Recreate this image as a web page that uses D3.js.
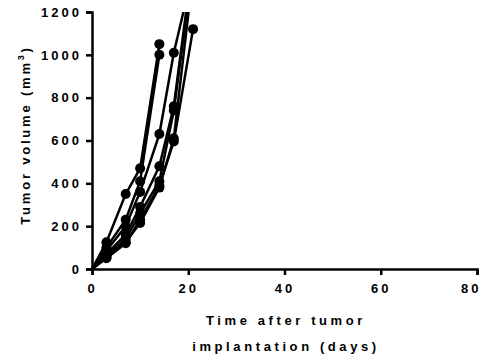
<!DOCTYPE html>
<html>
<head>
<meta charset="utf-8">
<script src="https://cdn.jsdelivr.net/npm/d3@7"></script>
<style>
  body { margin: 0; background: #fff; }
  text { font-family: "Liberation Sans", Arial, sans-serif; font-weight: bold; fill: #000; }
</style>
</head>
<body>
<div id="chart"></div>
<script>
// tumour volumes per mouse
var days = [0, 3, 7, 10, 14, 17, 21];
var mouse1 = [0, 125, 350, 470, 1050];
var mouse2 = [0, 100, 230, 410, 1000];
var mouse3 = [0, 85, 200, 360, 630, 1010, 1390];
var mouse4 = [0, 70, 160, 290, 480, 760, 1450];
var mouse5 = [0, 60, 140, 260, 410, 740, 1420];
var mouse6 = [0, 55, 125, 215, 380, 610, 1380];
var mouse7 = [0, 50, 120, 230, 390, 595, 1120];
var xTicks = [0, 20, 40, 60, 80];
var yTicks = [0, 200, 400, 600, 800, 1000, 1200];

var allMice = [mouse1, mouse2, mouse3, mouse4, mouse5, mouse6, mouse7];

var width = 485, height = 357;
var margin = { top: 12, right: 8, bottom: 88, left: 92 };

var svg = d3.select("#chart").append("svg")
    .attr("width", width)
    .attr("height", height);

var x = d3.scaleLinear().domain([0, 80]).range([margin.left, width - margin.right]);
var y = d3.scaleLinear().domain([0, 1200]).range([height - margin.bottom, margin.top]);

svg.append("clipPath").attr("id", "plot")
  .append("rect")
    .attr("x", x(0) - 6).attr("y", y(1200))
    .attr("width", x(80) - x(0) + 12).attr("height", y(0) - y(1200) + 6);

var line = d3.line()
    .x(function (d) { return x(d[0]); })
    .y(function (d) { return y(d[1]); });

var g = svg.append("g").attr("clip-path", "url(#plot)");

allMice.forEach(function (vals) {
    var pts = vals.map(function (v, i) { return [days[i], v]; });
    g.append("path")
        .attr("d", line(pts))
        .attr("fill", "none")
        .attr("stroke", "#000")
        .attr("stroke-width", 2.5);
    g.selectAll(null)
      .data(pts.slice(1).filter(function (d) { return d[1] <= 1200; }))
      .enter().append("circle")
        .attr("cx", function (d) { return x(d[0]); })
        .attr("cy", function (d) { return y(d[1]); })
        .attr("r", 5)
        .attr("fill", "#000");
});

var xAxis = svg.append("g")
    .attr("transform", "translate(0," + y(0) + ")")
    .call(d3.axisBottom(x).tickValues(xTicks).tickFormat(d3.format("d")).tickSize(6).tickPadding(9));

var yAxis = svg.append("g")
    .attr("transform", "translate(" + x(0) + ",0)")
    .call(d3.axisLeft(y).tickValues(yTicks).tickFormat(d3.format("d")).tickSize(6).tickPadding(4));

[xAxis, yAxis].forEach(function (a) {
    a.select(".domain").attr("stroke-width", 2.5).attr("stroke", "#000");
    a.selectAll(".tick line").attr("stroke-width", 2.5).attr("stroke", "#000");
    a.selectAll("text")
        .attr("font-size", 13)
        .style("font-family", "'Liberation Sans', Arial, sans-serif")
        .style("font-weight", "bold")
        .style("letter-spacing", "3px");
});
// last x label sits inside the edge, as in the original
xAxis.selectAll(".tick text").filter(function (d) { return d === 80; })
    .attr("text-anchor", "end").attr("dx", 4);

svg.append("text")
    .attr("x", 286).attr("y", 325)
    .attr("text-anchor", "middle")
    .attr("font-size", 13)
    .style("letter-spacing", "3.6px")
    .text("Time after tumor");

svg.append("text")
    .attr("x", 286).attr("y", 351)
    .attr("text-anchor", "middle")
    .attr("font-size", 13)
    .style("letter-spacing", "3.6px")
    .text("implantation (days)");

var yt = svg.append("text")
    .attr("transform", "translate(30,135) rotate(-90)")
    .attr("text-anchor", "middle")
    .attr("font-size", 13)
    .style("letter-spacing", "2.8px");
yt.append("tspan").text("Tumor volume (mm");
yt.append("tspan").attr("font-size", 9).attr("dy", -6).text("3");
yt.append("tspan").attr("dy", 6).text(")");
</script>
</body>
</html>
